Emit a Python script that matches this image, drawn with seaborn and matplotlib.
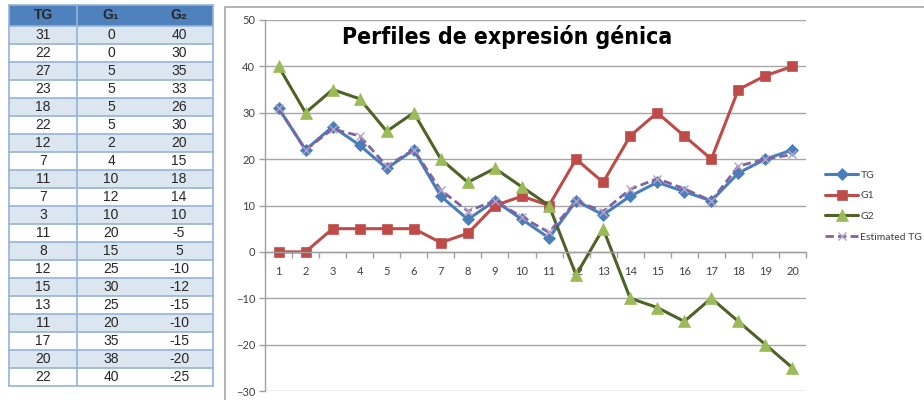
import numpy as np
import seaborn as sns
import matplotlib.pyplot as plt
from matplotlib.patches import Rectangle

# data
muestras = list(range(1, 21))
tg = [31, 22, 27, 23, 18, 22, 12, 7, 11, 7, 3, 11, 8, 12, 15, 13, 11, 17, 20, 22]
g1 = [0, 0, 5, 5, 5, 5, 2, 4, 10, 12, 10, 20, 15, 25, 30, 25, 20, 35, 38, 40]
g2 = [40, 30, 35, 33, 26, 30, 20, 15, 18, 14, 10, -5, 5, -10, -12, -15, -10, -15, -20, -25]
tg_est = [31, 22, 26.5, 25, 18.5, 22, 13.3, 8.8, 11, 7.5, 4.2, 11, 8.7, 13.5, 15.8, 13.6, 11, 18.5, 20, 21]
col_labels = ['TG', 'G\u2081', 'G\u2082']
titulo = 'Perfiles de expresión génica'

W, H = 924, 400


def fx(px):
    return px / W


def fy(py):
    return 1 - py / H


sns.set_theme(style='white')
plt.rcParams['font.family'] = ['Lato', 'DejaVu Sans']

fig = plt.figure(figsize=(W / 100, H / 100), dpi=100)

# --- table on the left ---
head_h, row_h = 21, 18
n = len(tg)
tab_h = head_h + n * row_h
ax_t = fig.add_axes([fx(9), fy(5 + tab_h), fx(213) - fx(9), fy(5) - fy(5 + tab_h)])
ax_t.axis('off')
ax_t.set_xlim(0, 1)
ax_t.set_ylim(0, 1)
cell_text = [[str(a), str(b), str(c)] for a, b, c in zip(tg, g1, g2)]
tab = ax_t.table(cellText=cell_text, colLabels=col_labels, cellLoc='center', bbox=[0, 0, 1, 1])
tab.auto_set_font_size(False)
tab.set_fontsize(10)
for (r, c), cell in tab.get_celld().items():
    cell.set_linewidth(0)
    cell.set_height((head_h if r == 0 else row_h) / tab_h)
    txt = cell.get_text()
    txt.set_fontfamily(['Liberation Sans', 'DejaVu Sans'])
    if r == 0:
        cell.set_facecolor('#4F81BD')
        txt.set_fontweight('bold')
    else:
        cell.set_facecolor('#DCE6F1' if r % 2 == 1 else 'white')

# borders: only rows, the outer frame and the line after TG
for k in range(n + 1):
    ax_t.plot([0, 1], [k * row_h / tab_h] * 2, color='#95B3D7', lw=1.2, zorder=5, clip_on=False)
ax_t.plot([0, 1], [1, 1], color='#95B3D7', lw=1.2, zorder=5, clip_on=False)
for xv in [0, 1 / 3, 1]:
    ax_t.plot([xv, xv], [0, 1], color='#95B3D7', lw=1.2, zorder=5, clip_on=False)

# chart frame
fig.patches.append(Rectangle((fx(225), -0.01), 1, fy(7) + 0.01, transform=fig.transFigure,
                             fill=False, edgecolor='#A6A6A6', lw=1.2))

# --- line chart ---
ax = fig.add_axes([fx(265), fy(391), fx(806) - fx(265), fy(20) - fy(391)])

sns.lineplot(x=muestras, y=tg, ax=ax, color='#4A7EBB', lw=2.2, marker='D', markersize=6,
             markeredgecolor='#4A7EBB', markeredgewidth=0.5, label='TG')
sns.lineplot(x=muestras, y=g1, ax=ax, color='#BE4B48', lw=2.2, marker='s', markersize=7.5,
             markeredgecolor='#C0504D', markeredgewidth=0.5, label='G1')
sns.lineplot(x=muestras, y=g2, ax=ax, color='#4F6228', lw=2.2, marker='^', markersize=8,
             markerfacecolor='#9BBB59', markeredgecolor='#9BBB59', markeredgewidth=0.5, label='G2')
sns.lineplot(x=muestras, y=tg_est, ax=ax, color='#8064A2', lw=2.0, linestyle=(0, (3, 1.5)),
             marker='x', markersize=6, markeredgecolor='#B3A2C7', markeredgewidth=1.0,
             label='Estimated TG')

ax.set_xlim(0.5, 20.5)
ax.set_ylim(-30, 50)
ax.set_yticks(range(-30, 51, 10))
ax.set_xticks(muestras)
ax.set_xticks(np.arange(0.5, 21, 1), minor=True)
ax.set_xlabel('')
ax.set_ylabel('')
ax.tick_params(axis='x', which='major', length=0, pad=10, labelsize=8, labelcolor='#404040')
ax.tick_params(axis='x', which='minor', length=4, width=1, color='#A0A0A0', direction='out', bottom=True)
ax.tick_params(axis='y', length=4, width=1, color='#A0A0A0', direction='out', left=True,
               labelsize=8, labelcolor='#404040', pad=3)
ax.grid(axis='y', color='#A6A6A6', lw=1)
ax.set_axisbelow(True)
ax.spines['bottom'].set_position(('data', 0))
for s in ['top', 'right']:
    ax.spines[s].set_visible(False)
for s in ['left', 'bottom']:
    ax.spines[s].set_color('#A0A0A0')
    ax.spines[s].set_linewidth(1)

fig.text(fx(507), fy(37), titulo, ha='center', va='center', fontsize=16.5, fontweight='bold',
         family='DejaVu Sans', fontstretch='condensed', color='black')

leg = ax.legend(loc='center left', bbox_to_anchor=(fx(825), fy(206)), bbox_transform=fig.transFigure,
                frameon=False, fontsize=7.5, handlelength=3.2, handletextpad=0.2, labelspacing=1.1,
                borderpad=0, borderaxespad=0, numpoints=1)
for t in leg.get_texts():
    t.set_color('#404040')

fig.savefig('out.png', dpi=100)
